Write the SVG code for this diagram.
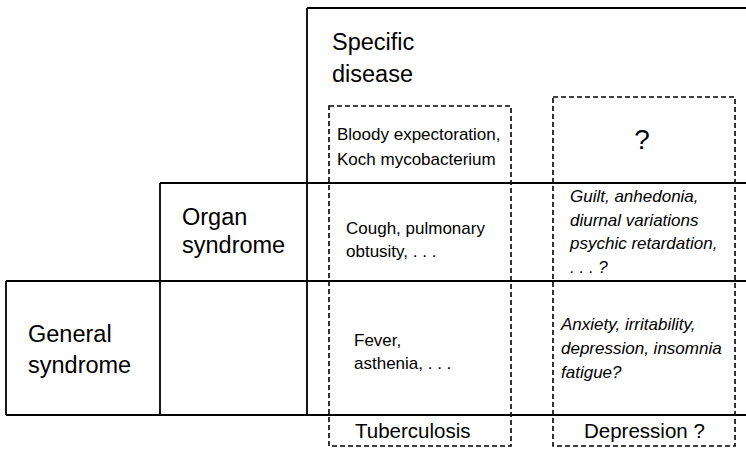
<svg xmlns="http://www.w3.org/2000/svg" width="746" height="450" viewBox="0 0 746 450">
<style>
.solid{fill:none;stroke:#000;stroke-width:1.8}
.dash{fill:none;stroke:#000;stroke-width:1.6;stroke-dasharray:5 3}
text{font-family:"Liberation Sans",Arial,sans-serif;fill:#000}
.big{font-size:23.5px}
.mid{font-size:20.5px}
.sm{font-size:17px}
.it{font-size:17px;font-style:italic}
</style>
<rect width="746" height="450" fill="#fff"/>
<g id="grid">
<path class="solid" d="M307,8 H746 M307,8 V415 M160,183 H746 M160,183 V415 M6,281 H746 M6,281 V415 M6,415 H746"/>
</g>
<g id="specific-disease">
<text class="big" x="332" y="50">Specific</text>
<text class="big" x="332" y="82">disease</text>
</g>
<g id="organ-syndrome">
<text class="big" x="182" y="225">Organ</text>
<text class="big" x="182" y="253">syndrome</text>
</g>
<g id="general-syndrome">
<text class="big" x="28" y="342">General</text>
<text class="big" x="28" y="373">syndrome</text>
</g>
<g id="tuberculosis">
<rect class="dash" x="329" y="106" width="182" height="340"/>
<text class="sm" x="337" y="140">Bloody expectoration,</text>
<text class="sm" x="337" y="165">Koch mycobacterium</text>
<text class="sm" x="346" y="234">Cough, pulmonary</text>
<text class="sm" x="346" y="257">obtusity, . . .</text>
<text class="sm" x="354" y="346">Fever,</text>
<text class="sm" x="354" y="369">asthenia, . . .</text>
<text class="mid" x="355" y="438">Tuberculosis</text>
</g>
<g id="depression">
<rect class="dash" x="553" y="97" width="182" height="349"/>
<text x="642" y="149" font-size="28" text-anchor="middle">?</text>
<text class="it" x="570" y="202">Guilt, anhedonia,</text>
<text class="it" x="570" y="226">diurnal variations</text>
<text class="it" x="570" y="249">psychic retardation,</text>
<text class="it" x="570" y="273">. . . ?</text>
<text class="it" x="561" y="330">Anxiety, irritability,</text>
<text class="it" x="561" y="354">depression, insomnia</text>
<text class="it" x="561" y="378">fatigue?</text>
<text class="mid" x="584" y="438">Depression ?</text>
</g>
</svg>
